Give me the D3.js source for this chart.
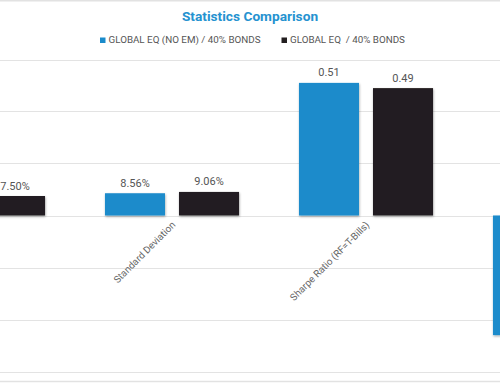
<!DOCTYPE html>
<html><head><meta charset="utf-8">
<script src="https://cdn.jsdelivr.net/npm/d3@7"></script>
<style>html,body{margin:0;padding:0;background:#fff;}svg{display:block;}</style>
</head><body>
<svg id="chart" width="500" height="383"></svg>
<script>
const categories = ["Annualized Return", "Standard Deviation", "Sharpe Ratio (RF=T-Bills)", "Max Drawdown"];
const seriesNames = ["GLOBAL EQ (NO EM) / 40% BONDS", "GLOBAL EQ  / 40% BONDS"];
const seriesA = [0.079, 0.0856, 0.51, -0.46];
const seriesB = [0.075, 0.0906, 0.49, -0.48];
const labelsA = ["7.90%", "8.56%", "0.51", "-46.00%"];
const labelsB = ["7.50%", "9.06%", "0.49", "-48.00%"];
const yTicks = [-0.6, -0.4, -0.2, 0, 0.2, 0.4, 0.6];
const colors = ["#1a8bcb", "#231f20"];

const svg = d3.select("#chart");
const W = 500, H = 383;

const defs = svg.append("defs");
const f = defs.append("filter").attr("id","sh").attr("x","-10%").attr("y","-10%").attr("width","130%").attr("height","130%");
f.append("feDropShadow").attr("dx",0.5).attr("dy",1.2).attr("stdDeviation",0.9).attr("flood-color","#000").attr("flood-opacity",0.35);

const y = d3.scaleLinear().domain([-0.6, 0.6]).range([371.5, 59.5]);
const x = d3.scaleBand().domain(categories).range([-119, 657]).paddingInner(0.309).paddingOuter(0.1545);
const xs = d3.scaleBand().domain(seriesNames).range([0, x.bandwidth()]).paddingInner(0.189);

// frame lines
svg.append("line").attr("x1",0).attr("x2",W).attr("y1",0.7).attr("y2",0.7).attr("stroke","#e2e2e2").attr("stroke-width",1.5);
svg.append("line").attr("x1",0).attr("x2",W).attr("y1",381.5).attr("y2",381.5).attr("stroke","#e2e2e2").attr("stroke-width",1.5);

// gridlines
svg.append("g").selectAll("line").data(yTicks).join("line")
  .attr("x1",0).attr("x2",W)
  .attr("y1",d=>Math.round(y(d))+0.5).attr("y2",d=>Math.round(y(d))+0.5)
  .attr("stroke","#e3e3e3").attr("stroke-width",1.2);

// bars
const data = [];
categories.forEach((c,i)=>{
  data.push({c, s:seriesNames[0], v:seriesA[i], l:labelsA[i], col:colors[0]});
  data.push({c, s:seriesNames[1], v:seriesB[i], l:labelsB[i], col:colors[1]});
});
const g = svg.append("g");
g.selectAll("rect").data(data).join("rect")
  .attr("x", d=>x(d.c)+xs(d.s))
  .attr("width", xs.bandwidth())
  .attr("y", d=>y(Math.max(0,d.v)))
  .attr("height", d=>Math.abs(y(d.v)-y(0)))
  .attr("fill", d=>d.col)
  .attr("filter","url(#sh)");

// value labels (only positive labels sit above bars; negative ones fall beyond the frame)
g.selectAll("text.v").data(data.filter(d=>d.v>=0)).join("text").attr("class","v")
  .attr("x", d=>x(d.c)+xs(d.s)+xs.bandwidth()/2)
  .attr("y", d=>y(d.v)-6.5)
  .attr("text-anchor","middle")
  .attr("font-family","Roboto, sans-serif").attr("font-size",11)
  .attr("fill","#555").text(d=>d.l);

// category labels
svg.append("g").selectAll("text").data(categories).join("text")
  .attr("transform", d=>`translate(${x(d)+x.bandwidth()/2+4},${y(0)+10}) rotate(-45)`)
  .attr("text-anchor","end")
  .attr("font-family","Roboto, sans-serif").attr("font-size",9.8)
  .attr("fill","#666").text(d=>d);

// title
svg.append("text").attr("x",250).attr("y",21).attr("text-anchor","middle")
  .attr("font-family","Roboto, sans-serif").attr("font-weight","bold").attr("font-size",13.7)
  .attr("fill","#2592d0").text("Statistics Comparison");

// legend
const leg = svg.append("g");
const legX = [100, 281.5];
seriesNames.forEach((s,i)=>{
  leg.append("rect").attr("x",legX[i]).attr("y",37.5).attr("width",5.5).attr("height",5.5).attr("fill",colors[i]);
  leg.append("text").attr("x",legX[i]+8.5).attr("y",43.3)
    .attr("font-family","Roboto, sans-serif").attr("font-size",9.8)
    .attr("fill","#555").attr("xml:space","preserve").style("white-space","pre").text(s);
});
</script>
</body></html>
